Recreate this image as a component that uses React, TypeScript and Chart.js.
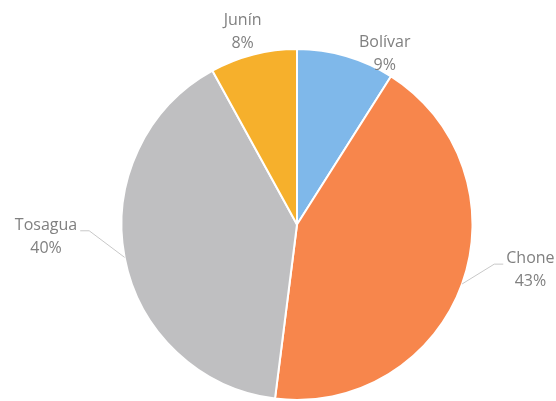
import React, { useEffect, useRef } from "react";
import { Chart, registerables } from "chart.js";

Chart.register(...registerables);

const categories = ["Bolívar", "Chone", "Tosagua", "Junín"];
const values = [9, 43, 40, 8];
const percentLabels = ["9%", "43%", "40%", "8%"];
const colors = ["#7fb8ea", "#f7864c", "#bfbfc1", "#f6b02c"];

// label centers relative to pie center, in units of the radius
const labelPlacement = [
  { x: 0.5, y: -0.97, leader: false },
  { x: 1.33, y: 0.26, leader: true },
  { x: -1.43, y: 0.07, leader: true },
  { x: -0.31, y: -1.10, leader: false },
];

const labelPlugin = {
  id: "outLabels",
  afterDatasetsDraw(chart: any) {
    const ctx = chart.ctx;
    const meta = chart.getDatasetMeta(0);
    ctx.save();
    ctx.font = "16px 'Open Sans'";
    ctx.fillStyle = "#808080";
    ctx.textAlign = "center";
    ctx.textBaseline = "middle";
    meta.data.forEach((arc: any, i: number) => {
      const { x, y, outerRadius, startAngle, endAngle } = arc.getProps(
        ["x", "y", "outerRadius", "startAngle", "endAngle"],
        true
      );
      const p = labelPlacement[i];
      const lx = x + p.x * outerRadius;
      const ly = y + p.y * outerRadius;
      const name = categories[i];
      ctx.fillText(name, lx, ly - 11.5);
      ctx.fillText(percentLabels[i], lx, ly + 11.5);
      if (p.leader) {
        const mid = (startAngle + endAngle) / 2;
        const ex = x + Math.cos(mid) * outerRadius;
        const ey = y + Math.sin(mid) * outerRadius;
        const w = ctx.measureText(name).width;
        const side = p.x > 0 ? -1 : 1;
        const tx = lx + side * (w / 2 + 3);
        const ty = ly - 6;
        const kx = tx + side * 9;
        ctx.beginPath();
        ctx.strokeStyle = "#c8c8c8";
        ctx.lineWidth = 1;
        ctx.moveTo(ex, ey);
        ctx.lineTo(kx, ty);
        ctx.lineTo(tx, ty);
        ctx.stroke();
      }
    });
    ctx.restore();
  },
};

export default function App() {
  const ref = useRef<HTMLCanvasElement>(null);
  useEffect(() => {
    document.body.style.margin = "0";
    const chart = new Chart(ref.current!, {
      type: "pie",
      data: {
        labels: categories,
        datasets: [
          {
            data: values,
            backgroundColor: colors,
            borderColor: "#ffffff",
            borderWidth: 2,
          },
        ],
      },
      options: {
        animation: false,
        responsive: false,
        layout: { padding: { left: 120, right: 82, top: 48, bottom: -2 } },
        plugins: { legend: { display: false }, tooltip: { enabled: false } },
      },
      plugins: [labelPlugin],
    });
    return () => chart.destroy();
  }, []);
  return <canvas ref={ref} width={556} height={401} style={{ display: "block" }} />;
}
